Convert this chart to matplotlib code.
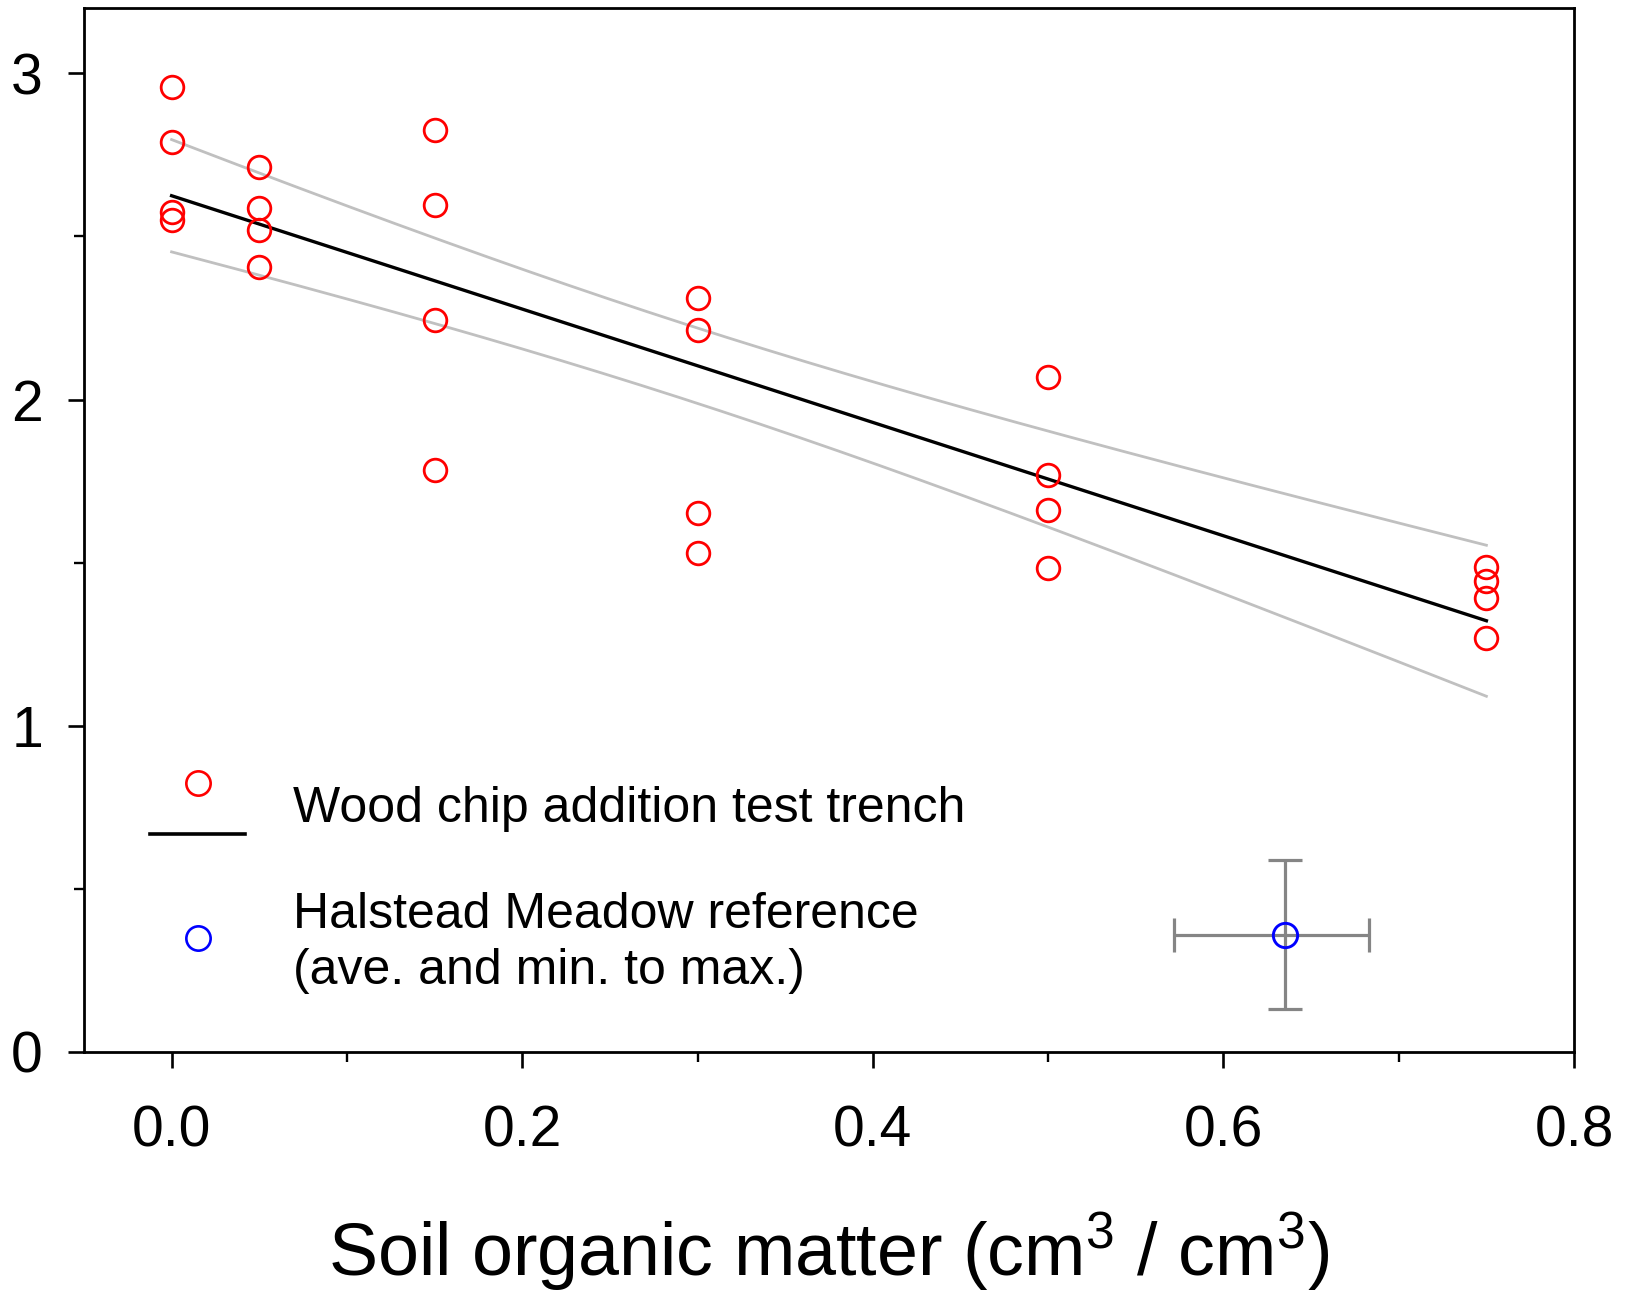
import numpy as np
import matplotlib
matplotlib.use("Agg")
import matplotlib.pyplot as plt
from matplotlib.ticker import MultipleLocator

plt.rcParams['font.family'] = ['Liberation Sans', 'DejaVu Sans']
plt.rcParams['mathtext.fontset'] = 'custom'
plt.rcParams['mathtext.rm'] = 'Liberation Sans'
plt.rcParams['mathtext.it'] = 'Liberation Sans'

# ---- data ----
som_levels = [0.0, 0.05, 0.15, 0.30, 0.50, 0.75]
trench_y = [
    [2.959, 2.788, 2.575, 2.550],
    [2.712, 2.587, 2.520, 2.405],
    [2.827, 2.597, 2.244, 1.785],
    [2.312, 2.213, 1.652, 1.530],
    [2.069, 1.769, 1.660, 1.485],
    [1.488, 1.444, 1.393, 1.269],
]
ref_x = 0.635
ref_y = 0.36
ref_x_range = [0.572, 0.683]
ref_y_range = [0.133, 0.587]
t_crit = 2.074  # t(0.975, df=22)

legend_labels = ["Wood chip addition test trench",
                 "Halstead Meadow reference",
                 "(ave. and min. to max.)"]
xlabel = r"Soil organic matter (cm$^3$ / cm$^3$)"
xticks = [0.0, 0.2, 0.4, 0.6, 0.8]
yticks = [0, 1, 2, 3]

# ---- derived ----
xs = np.repeat(som_levels, [len(v) for v in trench_y]).astype(float)
ys = np.concatenate([np.asarray(v, float) for v in trench_y])
slope, intercept = np.polyfit(xs, ys, 1)
n = len(xs)
resid = ys - (slope * xs + intercept)
s = np.sqrt(np.sum(resid ** 2) / (n - 2))
xbar = xs.mean()
sxx = np.sum((xs - xbar) ** 2)
xf = np.linspace(min(som_levels), max(som_levels), 200)
yf = slope * xf + intercept
half = t_crit * s * np.sqrt(1.0 / n + (xf - xbar) ** 2 / sxx)

# ---- figure ----
fig = plt.figure(figsize=(16.33, 12.97), dpi=100)
ax = fig.add_axes([0.0514, 0.1889, 0.9125, 0.8049])

ax.plot(xf, yf + half, color='#c0c0c0', lw=2.0, zorder=2)
ax.plot(xf, yf - half, color='#c0c0c0', lw=2.0, zorder=2)
ax.plot(xf, yf, color='black', lw=2.4, zorder=3)
ax.plot(xs, ys, 'o', ms=16.3, mfc='none', mec='red', mew=2.0, zorder=4)

ax.errorbar([ref_x], [ref_y],
            xerr=[[ref_x - ref_x_range[0]], [ref_x_range[1] - ref_x]],
            yerr=[[ref_y - ref_y_range[0]], [ref_y_range[1] - ref_y]],
            fmt='none', ecolor='#858585', elinewidth=2.3, capsize=12,
            capthick=2.3, zorder=2)
ax.plot([ref_x], [ref_y], 'o', ms=17.5, mfc='none', mec='blue', mew=2.1, zorder=5)

ax.set_xlim(-0.05, 0.8)
ax.set_ylim(0, 3.2)
ax.set_xticks(xticks)
ax.set_xticklabels([f"{v:.1f}" for v in xticks])
ax.set_yticks(yticks)
ax.set_yticklabels([str(v) for v in yticks])
ax.xaxis.set_minor_locator(MultipleLocator(0.1))
ax.yaxis.set_minor_locator(MultipleLocator(0.5))
ax.tick_params(which='major', direction='out', length=11.5, width=1.9,
               labelsize=41, pad=8)
ax.tick_params(axis='y', which='major', pad=18)
ax.tick_params(axis='x', which='major', pad=26)
ax.tick_params(which='minor', direction='out', length=7, width=1.7)
for sp in ax.spines.values():
    sp.set_linewidth(2.0)

ax.set_xlabel(xlabel, fontsize=53, va='baseline')
ax.xaxis.set_label_coords(0.5, -0.2146)

# ---- manual legend ----
tr = ax.transAxes
ax.plot([0.0763], [0.2577], 'o', ms=17.5, mfc='none', mec='red', mew=1.9,
        transform=tr, clip_on=False)
ax.plot([0.0443, 0.1084], [0.2088, 0.2088], color='black', lw=2.6,
        transform=tr, clip_on=False)
ax.plot([0.0763], [0.1092], 'o', ms=17.5, mfc='none', mec='blue', mew=1.9,
        transform=tr, clip_on=False)
ax.text(0.1403, 0.2206, legend_labels[0], transform=tr, fontsize=36,
        va='baseline', ha='left')
ax.text(0.1403, 0.1188, legend_labels[1], transform=tr, fontsize=36,
        va='baseline', ha='left')
ax.text(0.1403, 0.0651, legend_labels[2], transform=tr, fontsize=36,
        va='baseline', ha='left')

fig.savefig("out.png", dpi=100)
